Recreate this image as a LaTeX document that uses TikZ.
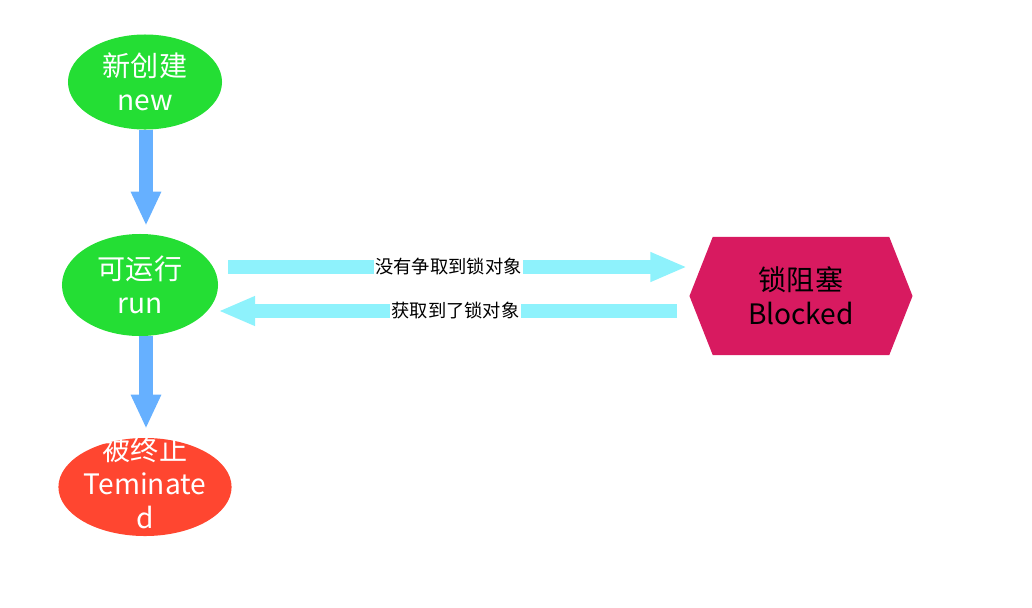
\documentclass[tikz,border=0pt]{standalone}
\usepackage{fontspec}
\setmainfont{Noto Sans CJK SC}
\usetikzlibrary{shapes.geometric,shapes.symbols,arrows.meta,calc}

\definecolor{stategreen}{RGB}{36,222,52}
\definecolor{statered}{RGB}{255,70,48}
\definecolor{blockpink}{RGB}{216,26,96}
\definecolor{downblue}{RGB}{102,176,255}
\definecolor{sidecyan}{RGB}{142,242,252}

\begin{document}
\begin{tikzpicture}[
    x=0.025cm, y=-0.025cm,
    font=\fontsize{20}{24}\selectfont,
    state/.style={ellipse, fill=stategreen, text=white, align=center, inner sep=0pt},
    blockbox/.style={signal, signal to=west and east, signal pointer angle=137,
        fill=blockpink, text=black, align=center, inner sep=0pt,
        minimum width=5.575cm, minimum height=2.95cm},
    down/.style={draw=downblue, line width=0.33cm,
        -{Triangle[width=0.7cm, length=0.85cm]}},
    side/.style={draw=sidecyan, line width=0.33cm,
        -{Triangle[width=0.68cm, length=0.92cm]}},
    lbl/.style={fill=white, inner sep=1pt, font=\fontsize{13}{15}\selectfont}
]
\useasboundingbox (0,0) rectangle (1032,607);

% States
\node[state, minimum width=3.85cm, minimum height=2.375cm] (new) at (145,82) {新创建\\new};
\node[state, minimum width=3.9cm, minimum height=2.55cm] (run) at (140,285) {可运行\\run};
\node[state, fill=statered, minimum width=4.25cm, minimum height=2.45cm] (term) at (145,487)
    {\raisebox{-0.4cm}{\smash{\begin{tabular}{@{}c@{}}被终止\\Teminate\\d\end{tabular}}}};
\node[blockbox] (blocked) at (801,296) {锁阻塞\\Blocked};

% Transitions
\draw[down] (new.south -| 146,0) -- ($(run.north -| 146,0)+(0,-8)$);
\draw[down] (run.south -| 146,0) -- ($(term.north -| 146,0)+(0,-9)$);

\draw[side] ($(run.east |- 0,267)+(10,0)$) -- node[lbl, pos=0.48]{没有争取到锁对象} ($(blocked.west |- 0,267)+(-2,0)$);
\draw[side] ($(blocked.west |- 0,311)+(-12,0)$) -- node[lbl, pos=0.483]{获取到了锁对象} ($(run.east |- 0,311)+(0,0)$);

\end{tikzpicture}
\end{document}
